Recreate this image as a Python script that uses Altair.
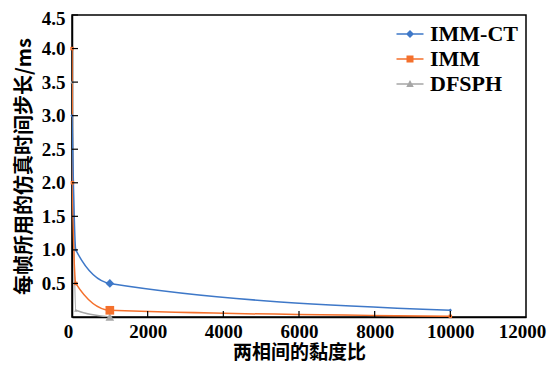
import altair as alt
import pandas as pd

series_names = ["IMM-CT", "IMM", "DFSPH"]
colors = ["#3e78c8", "#f4702c", "#a6a6a6"]
shapes = ["diamond", "square", "triangle-up"]

immct_x = [1, 100, 1000, 10000]
immct_y = [3.0, 1.0, 0.5, 0.1]
imm_x = [1, 10, 100, 1000, 10000]
imm_y = [4.0, 2.0, 0.5, 0.1, 0.01]
dfsph_x = [1, 100, 1000]
dfsph_y = [3.5, 0.1, 0.0]

x_ticks = [0, 2000, 4000, 6000, 8000, 10000, 12000]
y_ticks = [0, 0.5, 1.0, 1.5, 2.0, 2.5, 3.0, 3.5, 4.0, 4.5]

rows = []
# gray first so that it is drawn beneath the others
for name, xs, ys in [("DFSPH", dfsph_x, dfsph_y), ("IMM", imm_x, imm_y), ("IMM-CT", immct_x, immct_y)]:
    for xv, yv in zip(xs, ys):
        rows.append({"series": name, "ratio": xv, "time": yv})
df = pd.DataFrame(rows)

W, H = 454, 302
serif = "Liberation Serif"
cjk = "Noto Sans CJK SC"

xscale = alt.Scale(domain=[0, 12000], nice=False)
yscale = alt.Scale(domain=[0, 4.5], nice=False)
cscale = alt.Scale(domain=series_names, range=colors)

xaxis = alt.Axis(
    values=x_ticks, ticks=False, title="两相间的黏度比", grid=False, format="d",
    labelOverlap=False, labelFlush=False,
    labelOffset={"condition": {"test": "datum.value == 0 || datum.value == 12000", "value": -4}, "value": 0},
    labelFont=serif, labelFontWeight="bold", labelFontSize=19, labelColor="black",
    labelPadding=5, titleFont=cjk, titleFontSize=19, titleFontWeight="bold",
    titleColor="black", titlePadding=2, domainColor="black", domainWidth=1.5)
yaxis = alt.Axis(
    values=y_ticks, ticks=False, title="每帧所用的仿真时间步长/ms", grid=False,
    labelExpr="datum.value == 0 ? '' : format(datum.value, '.1f')",
    labelOverlap=False, labelFlush=False,
    labelOffset={"condition": {"test": "datum.value == 4.5", "value": 3}, "value": 0},
    labelFont=serif, labelFontWeight="bold", labelFontSize=19, labelColor="black",
    labelPadding=7, titleFont=cjk, titleFontSize=20, titleFontWeight="bold",
    titleColor="black", titlePadding=7, domainColor="black", domainWidth=1.5)

X = alt.X("ratio:Q", scale=xscale, axis=xaxis)
Y = alt.Y("time:Q", scale=yscale, axis=yaxis)

# legend symbols: a short bar (the line) with the marker in the middle, all filled
sym_paths = [
    "M-2.7,-0.14L2.7,-0.14L2.7,0.14L-2.7,0.14ZM0,-0.8L0.8,0L0,0.8L-0.8,0Z",
    "M-2.7,-0.14L2.7,-0.14L2.7,0.14L-2.7,0.14ZM-0.7,-0.7L0.7,-0.7L0.7,0.7L-0.7,0.7Z",
    "M-2.7,-0.14L2.7,-0.14L2.7,0.14L-2.7,0.14ZM0,-0.8L0.75,0.6L-0.75,0.6Z",
]

legend = alt.Legend(
    title=None, orient="none", legendX=327, legendY=8,
    labelFont=serif, labelFontWeight="bold", labelFontSize=22, labelColor="black",
    symbolSize=100, labelOffset=9, rowPadding=3, symbolOpacity=1, symbolStrokeWidth=0,
)

base = alt.Chart(df)

legend_layer = base.mark_point(filled=True, opacity=0).encode(
    x=X, y=Y,
    color=alt.Color("series:N", scale=cscale, sort=series_names, legend=legend),
    shape=alt.Shape("series:N", scale=alt.Scale(domain=series_names, range=sym_paths),
                    sort=series_names, legend=legend),
)

lines = base.mark_line(interpolate="monotone", strokeWidth=1.5, clip=True).encode(
    x=X, y=Y,
    color=alt.Color("series:N", scale=cscale, sort=series_names),
)

point_layers = []
for name, shp, col in zip(series_names[::-1], shapes[::-1], colors[::-1]):
    point_layers.append(
        base.transform_filter(alt.datum.series == name)
        .mark_point(filled=True, opacity=1, shape=shp, color=col)
        .encode(x=X, y=Y,
                size=alt.condition(alt.datum.ratio == 1000, alt.value(75), alt.value(12)))
    )

yt = alt.Chart(pd.DataFrame({"time": y_ticks[1:]})).mark_rule(color="black", strokeWidth=1.2).encode(
    y=Y, x=alt.value(0), x2=alt.value(6))
xt = alt.Chart(pd.DataFrame({"ratio": x_ticks[1:-1]})).mark_rule(color="black", strokeWidth=1.2).encode(
    x=X, y=alt.value(H), y2=alt.value(H - 6))

chart = alt.layer(legend_layer, lines, *point_layers, yt, xt).properties(
    width=W, height=H, background="white",
    autosize=alt.AutoSizeParams(type="none"),
    padding={"left": 64, "top": 7, "right": 22, "bottom": 46},
).configure_view(stroke="black", strokeWidth=1.5)

chart.save("out.html", embed_options={"renderer": "svg", "actions": False})
